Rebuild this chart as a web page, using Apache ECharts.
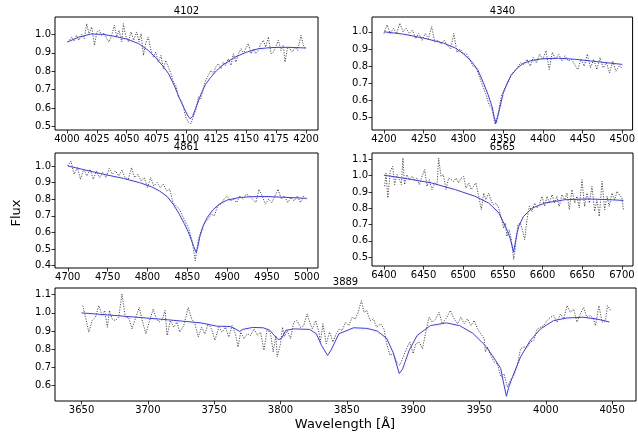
<!DOCTYPE html>
<html>
<head>
<meta charset="utf-8">
<script src="https://cdn.jsdelivr.net/npm/echarts@6/dist/echarts.min.js"></script>
<style>
  html, body { margin: 0; padding: 0; background: #fff; }
  #chart { width: 638px; height: 437px; }
</style>
</head>
<body>
<div id="chart"></div>
<script>
// ---- observed spectra: wavelength / flux ----
const obsWl4102 = [4001, 4004, 4006, 4008, 4010, 4012.3, 4014.5, 4016.5, 4018.4, 4020.7, 4023, 4025, 4027, 4029,
  4031.3, 4033.2, 4035.2, 4037.4, 4039.6, 4041.6, 4043.5, 4045.8, 4047.2, 4049, 4051.4, 4053.6, 4055.8, 4058.3,
  4060.3, 4062, 4064, 4065.8, 4068, 4070.3, 4072.3, 4074.2, 4076.4, 4078.7, 4080.6, 4082.6, 4084.8, 4087, 4089,
  4091, 4093.2, 4095.4, 4097.4, 4099.3, 4101.5, 4103.8, 4105.7, 4107.7, 4110, 4112, 4114, 4116, 4118.3, 4120.5,
  4122.5, 4124.4, 4126.6, 4128.9, 4130.8, 4132.8, 4135, 4137.2, 4139.2, 4141.4, 4143.4, 4145.6, 4147.6, 4149.5,
  4151.7, 4154, 4156, 4157.9, 4160, 4162.3, 4164.3, 4166.2, 4168.5, 4170.7, 4172.7, 4174.6, 4176.8, 4179, 4181,
  4182.4, 4184.6, 4186.6, 4188.6, 4190.8, 4193, 4195.8, 4197.8, 4199.7]
const obsFx4102 = [0.959, 0.986, 0.964, 0.995, 0.968, 1.0, 0.977, 1.058, 1.004, 1.04, 0.94, 1.013, 1.022, 0.995,
  1.007, 0.977, 0.959, 0.995, 1.049, 0.986, 1.022, 0.959, 1.058, 0.995, 0.959, 1.013, 0.968, 1.013, 0.959, 1.004,
  0.886, 0.95, 0.986, 0.913, 0.877, 0.904, 0.85, 0.886, 0.814, 0.859, 0.823, 0.787, 0.742, 0.724, 0.661, 0.643,
  0.607, 0.553, 0.525, 0.516, 0.553, 0.589, 0.661, 0.652, 0.706, 0.751, 0.778, 0.805, 0.787, 0.823, 0.841, 0.814,
  0.85, 0.832, 0.868, 0.832, 0.895, 0.85, 0.895, 0.922, 0.895, 0.922, 0.95, 0.895, 0.922, 0.895, 0.913, 0.95,
  0.968, 0.931, 0.986, 0.895, 0.904, 0.931, 0.968, 0.913, 0.94, 0.85, 0.931, 0.922, 0.904, 0.931, 0.913, 0.995,
  0.94, 0.922]

const start4340 = 4200, step4340 = 4
const flux4340 = [0.99, 1.04, 0.99, 1.02, 0.99, 1.05, 1.0, 1.02, 0.99, 1.01, 0.96, 0.99, 0.95, 0.99, 0.96, 1.03,
  0.94, 0.95, 0.93, 0.95, 0.92, 0.9, 0.99, 0.88, 0.9, 0.87, 0.87, 0.84, 0.8, 0.79, 0.74, 0.69, 0.64, 0.58, 0.55,
  0.46, 0.53, 0.63, 0.67, 0.7, 0.75, 0.77, 0.79, 0.82, 0.81, 0.84, 0.8, 0.85, 0.82, 0.87, 0.84, 0.89, 0.78, 0.88,
  0.84, 0.87, 0.83, 0.86, 0.83, 0.84, 0.81, 0.78, 0.84, 0.8, 0.87, 0.79, 0.84, 0.78, 0.85, 0.79, 0.82, 0.76, 0.83,
  0.77, 0.8, 0.79]

const start4861 = 4700, step4861 = 4
const flux4861 = [1.0, 1.03, 0.95, 0.99, 0.92, 0.98, 0.94, 0.98, 0.92, 0.97, 0.93, 0.96, 0.93, 0.985, 0.95, 0.97,
  0.94, 0.975, 0.93, 0.92, 0.99, 0.93, 0.95, 0.91, 0.93, 0.87, 0.93, 0.88, 0.9, 0.87, 0.89, 0.85, 0.86, 0.78, 0.76,
  0.74, 0.7, 0.66, 0.62, 0.55, 0.43, 0.56, 0.62, 0.66, 0.68, 0.71, 0.7, 0.76, 0.77, 0.8, 0.82, 0.79, 0.8, 0.78,
  0.82, 0.8, 0.83, 0.82, 0.8, 0.78, 0.86, 0.82, 0.77, 0.8, 0.78, 0.82, 0.86, 0.8, 0.82, 0.78, 0.81, 0.79, 0.82,
  0.78, 0.82]

const obsWl6565 = [6401, 6402.6, 6405, 6408, 6411, 6413.6, 6416.5, 6419.5, 6422, 6424, 6426, 6429, 6432, 6435.4,
  6438.4, 6441.7, 6444.7, 6448, 6451.4, 6454.3, 6457.3, 6460.6, 6464, 6467, 6469, 6472, 6475, 6478.3, 6481.6, 6485,
  6488, 6491, 6494, 6497.6, 6500.5, 6503.5, 6507, 6510, 6513, 6516, 6519.5, 6522.8, 6525.8, 6528.7, 6532, 6535.4,
  6538.4, 6541.3, 6544.7, 6548, 6551, 6553, 6555, 6558, 6560.6, 6563.6, 6566.5, 6569, 6572, 6575, 6577.4, 6580.4,
  6583.3, 6586.7, 6590, 6593, 6596, 6599.3, 6602.6, 6605.6, 6608.5, 6612, 6615, 6618, 6621, 6624.5, 6627.9, 6630.8,
  6633.7, 6637, 6640.5, 6643.4, 6646.3, 6649.7, 6653, 6656, 6659, 6662.3, 6665.7, 6668.6, 6671.5, 6675, 6678.3,
  6681.2, 6684, 6687.5, 6690.9, 6693.8, 6696.8, 6700, 6702]
const obsFx6565 = [0.934, 1.016, 0.863, 1.026, 1.057, 0.945, 1.006, 0.975, 0.945, 1.108, 0.945, 1.006, 0.975,
  0.996, 0.975, 0.985, 0.945, 0.996, 1.037, 0.934, 0.975, 0.914, 0.955, 0.945, 1.108, 0.996, 1.006, 0.914, 0.985,
  0.975, 0.965, 0.985, 0.955, 0.985, 0.996, 0.924, 0.955, 0.914, 0.934, 0.955, 0.873, 0.791, 0.893, 0.852, 0.893,
  0.842, 0.822, 0.832, 0.801, 0.74, 0.678, 0.709, 0.627, 0.668, 0.607, 0.484, 0.597, 0.699, 0.709, 0.658, 0.607,
  0.73, 0.811, 0.781, 0.832, 0.801, 0.822, 0.873, 0.811, 0.873, 0.832, 0.883, 0.832, 0.873, 0.811, 0.883, 0.852,
  0.893, 0.791, 0.914, 0.832, 0.873, 0.801, 0.975, 0.811, 0.893, 0.832, 0.934, 0.781, 0.852, 0.75, 0.965, 0.791,
  0.873, 0.811, 0.893, 0.852, 0.904, 0.883, 0.863, 0.791]

const obsWl3889 = [3651, 3653, 3655.5, 3658, 3660.5, 3663, 3665.5, 3667.5, 3669.5, 3671, 3673, 3675.5, 3678, 3680.5,
  3683, 3685.5, 3688, 3690.5, 3693.5, 3695.5, 3698.5, 3701, 3704, 3706, 3708.5, 3711, 3713, 3714.5, 3717, 3719.5,
  3722, 3724, 3727, 3730.5, 3733, 3735.5, 3738, 3740.5, 3743, 3745.5, 3748, 3750.5, 3753.5, 3756, 3758.5, 3761,
  3763.5, 3766, 3768, 3770, 3772.5, 3775, 3777.5, 3780, 3782.5, 3785, 3787.5, 3790, 3792.5, 3794.5, 3796.5, 3797.5,
  3800, 3801.5, 3803, 3805, 3807.5, 3810, 3812.5, 3815, 3817.5, 3820, 3822, 3824, 3826.5, 3829, 3830, 3832, 3834.5,
  3837, 3839.5, 3842, 3844.5, 3846.5, 3849, 3851.5, 3854, 3856.5, 3858.5, 3861, 3863, 3865, 3867.5, 3870, 3872.5,
  3875.5, 3878, 3880, 3882.5, 3885, 3887.5, 3890, 3892.5, 3895, 3897.5, 3900, 3902, 3904.5, 3907, 3909.5, 3912,
  3914.5, 3917, 3919.5, 3922, 3925.5, 3928, 3931, 3933.5, 3936, 3938.5, 3941, 3943.5, 3946, 3948.5, 3951, 3953.5,
  3954.5, 3956, 3958.5, 3961, 3963.5, 3966, 3968.5, 3971, 3973.5, 3976, 3978.5, 3981, 3983.5, 3986, 3988.5, 3991,
  3993.5, 3996, 3998.5, 4001, 4003.5, 4006, 4008.5, 4011, 4013.5, 4016, 4018.5, 4021, 4023.5, 4026, 4028.5, 4031,
  4033.5, 4036, 4037.5, 4040, 4042.5, 4045, 4046.5, 4049]
const obsFx3889 = [1.04, 0.976, 0.894, 0.958, 0.976, 1.04, 0.985, 1.013, 0.921, 1.013, 0.967, 0.958, 0.976, 1.104,
  0.976, 0.976, 0.912, 0.967, 1.03, 0.967, 0.885, 0.949, 1.021, 0.976, 0.949, 0.967, 1.013, 0.876, 0.958, 0.921,
  0.949, 0.894, 0.93, 1.03, 0.967, 0.94, 0.867, 0.921, 0.885, 0.94, 0.912, 0.849, 0.921, 0.894, 0.921, 0.867, 0.93,
  0.885, 0.812, 0.894, 0.858, 0.885, 0.876, 0.912, 0.876, 0.894, 0.794, 0.912, 0.885, 0.785, 0.876, 0.757, 0.83,
  0.921, 0.87, 0.903, 0.858, 0.949, 0.958, 0.921, 0.93, 0.994, 0.949, 0.912, 0.958, 0.894, 0.84, 0.94, 0.83, 0.894,
  0.84, 0.885, 0.912, 0.903, 0.949, 0.93, 0.976, 0.967, 1.003, 1.067, 1.003, 1.013, 0.958, 0.967, 0.921, 0.94,
  0.912, 0.83, 0.767, 0.776, 0.73, 0.712, 0.757, 0.803, 0.84, 0.776, 0.83, 0.84, 0.803, 0.894, 0.976, 0.949, 0.967,
  1.003, 0.94, 0.977, 1.013, 0.967, 0.94, 0.976, 0.94, 0.967, 0.93, 0.958, 0.912, 0.885, 0.858, 0.785, 0.812, 0.767,
  0.73, 0.72, 0.648, 0.666, 0.592, 0.63, 0.657, 0.712, 0.803, 0.812, 0.812, 0.84, 0.849, 0.912, 0.921, 0.93, 0.958,
  0.976, 0.985, 0.949, 0.994, 0.967, 1.04, 1.003, 1.021, 0.949, 0.994, 1.03, 0.976, 0.985, 0.967, 0.93, 1.04,
  0.949, 0.958, 1.04, 1.013]

// ---- model fits ----
const modelWl4102 = [4000, 4010, 4020, 4030, 4040, 4050, 4060, 4068, 4074, 4080, 4085, 4090, 4094, 4098, 4101, 4103,
  4105, 4108, 4112, 4116, 4120, 4125, 4130, 4140, 4150, 4160, 4170, 4180, 4190, 4200]
const modelFx4102 = [0.958, 0.985, 1.002, 1.0, 0.989, 0.975, 0.95, 0.913, 0.875, 0.83, 0.787, 0.72, 0.655, 0.6,
  0.56, 0.543, 0.555, 0.605, 0.675, 0.73, 0.765, 0.803, 0.832, 0.875, 0.903, 0.922, 0.928, 0.93, 0.929, 0.926]

const modelWl4340 = [4200, 4225, 4250, 4275, 4290, 4300, 4310, 4318, 4325, 4331, 4336, 4339, 4341, 4343, 4346, 4350,
  4355, 4360, 4367, 4375, 4385, 4400, 4420, 4440, 4460, 4480, 4500]
const modelFx4340 = [1.0, 0.986, 0.963, 0.934, 0.905, 0.872, 0.828, 0.78, 0.705, 0.635, 0.565, 0.5, 0.468, 0.5, 0.56,
  0.64, 0.7, 0.745, 0.785, 0.815, 0.832, 0.843, 0.846, 0.84, 0.83, 0.82, 0.81]

const modelWl4861 = [4700, 4720, 4745, 4770, 4790, 4805, 4815, 4825, 4833, 4840, 4846, 4851, 4855, 4858, 4861, 4863,
  4866, 4870, 4875, 4882, 4890, 4900, 4915, 4930, 4950, 4970, 5000]
const modelFx4861 = [1.0, 0.978, 0.95, 0.925, 0.9, 0.875, 0.85, 0.815, 0.765, 0.71, 0.655, 0.605, 0.555, 0.515, 0.48,
  0.51, 0.58, 0.64, 0.69, 0.735, 0.77, 0.795, 0.81, 0.815, 0.816, 0.812, 0.805]

const modelWl6565 = [6400, 6430, 6460, 6490, 6515, 6532, 6540, 6545, 6550, 6553, 6556, 6559, 6561, 6563.5, 6566,
  6568, 6570, 6576, 6587, 6603, 6628, 6658, 6680, 6702]
const modelFx6565 = [1.003, 0.98, 0.955, 0.914, 0.873, 0.832, 0.795, 0.77, 0.72, 0.689, 0.655, 0.617, 0.58, 0.53,
  0.6, 0.65, 0.689, 0.75, 0.801, 0.832, 0.852, 0.857, 0.853, 0.848]

const modelWl3889 = [3650, 3685, 3715, 3740, 3752, 3762, 3766, 3769, 3772, 3779, 3787, 3792, 3795, 3798.5, 3801,
  3804, 3810, 3822, 3827, 3831, 3835.5, 3838, 3844, 3855, 3865, 3873, 3880, 3885, 3889.5, 3892, 3897, 3903, 3913,
  3925, 3935, 3945, 3955, 3962, 3966, 3968, 3970.3, 3972, 3975, 3981, 3988, 3996, 4006, 4016, 4028, 4038, 4048]
const modelFx3889 = [1.0, 0.98, 0.962, 0.945, 0.927, 0.925, 0.912, 0.898, 0.91, 0.92, 0.918, 0.904, 0.878, 0.852,
  0.862, 0.904, 0.912, 0.909, 0.885, 0.82, 0.766, 0.794, 0.885, 0.918, 0.915, 0.9, 0.86, 0.78, 0.666, 0.69, 0.794,
  0.876, 0.93, 0.945, 0.93, 0.888, 0.815, 0.74, 0.694, 0.62, 0.541, 0.59, 0.65, 0.758, 0.845, 0.912, 0.958, 0.972,
  0.976, 0.967, 0.95]

// ---- tick labels ----
const xTicks4102 = [4000, 4025, 4050, 4075, 4100, 4125, 4150, 4175, 4200]
const xTicks4340 = [4200, 4250, 4300, 4350, 4400, 4450, 4500]
const xTicks4861 = [4700, 4750, 4800, 4850, 4900, 4950, 5000]
const xTicks6565 = [6400, 6450, 6500, 6550, 6600, 6650, 6700]
const xTicks3889 = [3650, 3700, 3750, 3800, 3850, 3900, 3950, 4000, 4050]
const yTicks4102 = [0.5, 0.6, 0.7, 0.8, 0.9, 1.0]
const yTicks4340 = [0.5, 0.6, 0.7, 0.8, 0.9, 1.0]
const yTicks4861 = [0.4, 0.5, 0.6, 0.7, 0.8, 0.9, 1.0]
const yTicks6565 = [0.5, 0.6, 0.7, 0.8, 0.9, 1.0, 1.1]
const yTicks3889 = [0.6, 0.7, 0.8, 0.9, 1.0, 1.1]

const FONT = 'DejaVu Sans'

// 等间隔采样的谱 -> [波长, 流量]
const regular = (s0, ds, ys) => ys.map((y, k) => [s0 + k * ds, y])
const pairs = (xs, ys) => xs.map((x, k) => [x, ys[k]])

// 每个子图: 标题, 网格位置, 坐标范围
const panels = [
  { name: '4102', box: [55, 17, 263, 113], x: [3990, 4210], y: [0.482, 1.094], xt: xTicks4102, yt: yTicks4102,
    obs: pairs(obsWl4102, obsFx4102), model: pairs(modelWl4102, modelFx4102) },
  { name: '4340', box: [372, 17, 261, 113], x: [4185, 4513], y: [0.428, 1.086], xt: xTicks4340, yt: yTicks4340,
    obs: regular(start4340, step4340, flux4340), model: pairs(modelWl4340, modelFx4340) },
  { name: '4861', box: [55, 153, 263, 115], x: [4684, 5014], y: [0.386, 1.078], xt: xTicks4861, yt: yTicks4861,
    obs: regular(start4861, step4861, flux4861), model: pairs(modelWl4861, modelFx4861) },
  { name: '6565', box: [372, 153, 261, 113], x: [6385, 6714], y: [0.445, 1.139], xt: xTicks6565, yt: yTicks6565,
    obs: pairs(obsWl6565, obsFx6565), model: pairs(modelWl6565, modelFx6565) },
  { name: '3889', box: [55, 288, 581, 113], x: [3630, 4068], y: [0.515, 1.137], xt: xTicks3889, yt: yTicks3889,
    obs: pairs(obsWl3889, obsFx3889), model: pairs(modelWl3889, modelFx3889) }
]

const chart = echarts.init(document.getElementById('chart'), null, { renderer: 'canvas' })

const grid = []
const xAxis = []
const yAxis = []
const series = []
const graphic = []

panels.forEach((p, i) => {
  const [left, top, width, height] = p.box
  grid.push({ left, top, width, height, show: true, borderColor: '#000', borderWidth: 1, containLabel: false })
  xAxis.push({
    type: 'value', gridIndex: i, min: p.x[0], max: p.x[1],
    axisLine: { show: false }, splitLine: { show: false },
    axisTick: { show: true, customValues: p.xt, length: 3.5, lineStyle: { color: '#000', width: 0.8 } },
    axisLabel: { customValues: p.xt, fontSize: 10, color: '#000', fontFamily: FONT, margin: 4, hideOverlap: false,
      formatter: (v) => String(v) }
  })
  yAxis.push({
    type: 'value', gridIndex: i, min: p.y[0], max: p.y[1],
    axisLine: { show: false }, splitLine: { show: false },
    axisTick: { show: true, customValues: p.yt, length: 3.5, lineStyle: { color: '#000', width: 0.8 } },
    axisLabel: { customValues: p.yt, fontSize: 10, color: '#000', fontFamily: FONT, margin: 4,
      formatter: (v) => v.toFixed(1) }
  })
  // 观测谱: 点线
  series.push({
    type: 'line', xAxisIndex: i, yAxisIndex: i, showSymbol: false, silent: true, clip: true,
    data: p.obs,
    lineStyle: { color: '#222', width: 0.8, type: [1.2, 1.4] }
  })
  // 模型拟合: 蓝色实线
  series.push({
    type: 'line', xAxisIndex: i, yAxisIndex: i, showSymbol: false, silent: true, clip: true,
    data: p.model,
    lineStyle: { color: '#3838ff', width: 1 }
  })
  graphic.push({
    type: 'text', x: left + width / 2, y: top - 6,
    style: { text: p.name, font: '10px ' + FONT, fill: '#000', align: 'center', verticalAlign: 'middle' }
  })
})

// 坐标轴名称
graphic.push({
  type: 'text', x: 17, y: 213, rotation: Math.PI / 2,
  style: { text: 'Flux', font: '13px ' + FONT, fill: '#000', align: 'center', verticalAlign: 'middle' }
})
graphic.push({
  type: 'text', x: 345, y: 425,
  style: { text: 'Wavelength [Å]', font: '13px ' + FONT, fill: '#000', align: 'center', verticalAlign: 'middle' }
})

chart.setOption({ animation: false, backgroundColor: '#fff', grid, xAxis, yAxis, series, graphic })
</script>
</body>
</html>
